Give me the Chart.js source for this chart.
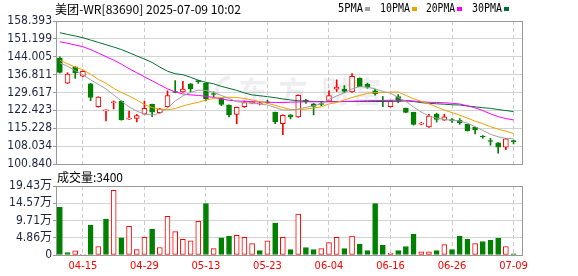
<!DOCTYPE html>
<html>
<head>
<meta charset="utf-8">
<script src="https://cdn.jsdelivr.net/npm/chart.js@4.4.1/dist/chart.umd.min.js"></script>
<style>
  html, body { margin: 0; padding: 0; background: #fff; }
  #wrap { position: relative; width: 578px; height: 276px; overflow: hidden; }
  #wrap canvas { position: absolute; left: 0; top: 0; }
</style>
</head>
<body>
<div id="wrap">
  <canvas id="kChart" width="578" height="276"></canvas>
  <canvas id="volChart" width="578" height="276"></canvas>
</div>
<script>
// trading days shown on the chart
const dates = [
  "04-10","04-11","04-14","04-15","04-16","04-17","04-22","04-23","04-24","04-25",
  "04-28","04-29","04-30","05-02","05-06","05-07","05-08","05-09","05-12","05-13",
  "05-14","05-15","05-16","05-19","05-20","05-21","05-22","05-23","05-26","05-27",
  "05-28","05-29","05-30","06-02","06-03","06-04","06-05","06-06","06-09","06-10",
  "06-11","06-12","06-13","06-16","06-17","06-18","06-19","06-20","06-23","06-24",
  "06-25","06-26","06-27","06-30","07-02","07-03","07-04","07-07","07-08","07-09"
];
// which dates get an x label + dashed grid line
const labelIdx = [3, 11, 19, 27, 35, 43, 51, 59];

const opens = [
  143.5,133.4,139.9,136.2,133.1,123.9,122.2,125.5,126.1,118.9,
  119.2,120.9,124.9,121.5,123.9,130.0,129.8,133.1,134.4,133.4,
  129.1,127.2,124.6,120.8,123.9,125.4,125.0,125.8,121.6,117.1,
  120.6,119.8,126.6,125.1,125.1,126.1,131.0,131.0,129.8,135.4,
  133.0,130.3,126.5,123.9,128.0,123.2,121.6,116.9,115.8,120.9,
  118.5,118.6,118.4,116.8,115.6,112.0,110.3,109.4,107.6,110.3
];
const highs = [
  144.0,137.6,140.0,138.3,133.3,127.9,122.6,126.2,126.3,122.1,
  120.8,126.1,125.0,123.2,130.3,134.4,134.1,133.2,134.6,133.5,
  129.9,127.3,124.7,123.8,126.2,126.1,125.8,126.5,121.7,120.6,
  120.7,128.7,126.9,125.2,125.8,130.3,134.7,132.4,137.2,135.5,
  133.4,130.9,128.0,126.4,128.8,123.3,121.7,117.6,120.8,121.3,
  120.9,119.1,119.1,116.9,115.7,112.3,111.2,109.5,111.2,110.5
];
const lows = [
  137.5,133.2,135.3,136.0,126.3,123.7,118.2,123.0,118.5,118.8,
  117.8,120.8,119.9,121.3,123.8,129.5,129.7,129.9,133.3,126.3,
  127.9,124.3,119.8,117.0,123.6,125.1,124.6,125.3,117.1,112.6,
  119.0,119.6,125.2,120.6,124.3,126.0,130.0,129.6,129.6,131.9,
  131.3,128.5,123.9,123.8,125.5,121.5,116.5,116.6,115.6,117.7,
  118.4,117.6,116.8,114.1,112.9,111.2,108.4,105.2,106.6,108.9
];
const closes = [
  137.7,137.0,137.5,138.1,127.6,127.8,122.4,125.7,118.6,119.3,
  120.3,123.2,121.7,123.0,128.4,129.6,131.0,131.1,133.9,127.1,
  128.8,124.8,120.6,123.6,125.6,125.7,125.3,125.5,117.9,120.4,
  119.8,128.5,125.8,124.0,124.8,128.4,131.8,130.1,136.1,132.0,
  131.8,129.1,126.1,126.2,126.1,121.6,116.8,117.2,120.1,118.8,
  119.8,118.3,117.5,114.2,114.7,111.7,109.9,107.6,111.0,109.8
];

const ma5 = [
  141.5,140.2,138.4,136.8,134.73,132.9,131.08,128.64,126.2,123.77,
  122.15,120.93,120.52,121.21,123.37,126.2,128.24,129.66,130.55,130.47,
  129.66,128.44,127.22,125.92,125.6,125.27,124.99,124.58,123.57,122.55,
  122.55,122.96,123.65,124.18,125.19,126.81,128.24,129.45,131.08,132.01,
  131.77,131.08,130.06,129.33,127.63,126.0,123.77,121.74,120.12,119.31,
  118.78,118.41,118.21,117.28,115.86,114.35,112.81,111.8,111.19,110.99
];
const ma10 = [
  142.56,141.22,139.81,138.79,136.96,134.93,133.31,131.28,129.66,128.24,
  126.61,124.79,123.57,122.84,122.64,123.16,124.18,124.99,125.68,126.61,
  127.22,127.63,127.71,127.63,127.22,126.61,126.0,125.27,124.46,123.57,
  122.76,122.64,122.96,123.37,123.86,124.99,125.6,126.61,127.63,128.44,
  129.25,129.58,129.66,129.74,129.86,128.44,127.1,126.08,125.07,123.77,
  122.55,121.54,120.52,119.31,118.09,117.08,115.86,114.84,114.03,113.1
];
const ma20 = [
  150.03,149.42,148.73,148.04,146.91,145.5,144.07,142.65,141.02,139.19,
  137.57,135.95,134.32,132.7,131.08,129.86,129.05,128.64,128.44,128.11,
  127.63,127.02,126.49,126.21,126.08,125.92,125.8,125.68,125.6,125.6,
  125.72,125.8,125.88,125.88,125.88,125.88,125.88,126.0,126.12,126.2,
  126.29,126.37,126.41,126.49,126.53,126.41,126.2,125.88,125.68,125.6,
  125.48,125.27,124.99,124.26,123.44,122.35,121.01,119.92,119.11,118.58
];
const ma30 = [
  153.68,152.99,152.35,151.66,150.72,149.79,148.85,147.92,146.91,145.65,
  144.35,143.09,141.71,139.84,138.18,137.17,136.76,135.75,134.53,133.72,
  133.11,132.09,131.28,130.47,129.45,128.64,128.32,127.95,127.51,127.02,
  126.61,126.29,126.12,126.04,126.0,126.0,126.0,126.0,126.0,126.0,
  126.0,126.0,126.0,126.05,126.1,126.19,126.0,125.52,125.27,125.07,
  124.91,124.67,124.58,124.18,123.85,123.48,123.24,122.76,122.35,121.95
];

// volume in 万 shares
const volumes = [
  13.4,0.67,1.15,0.2,8.4,2.4,10.1,18.2,4.8,8.1,
  1.5,5.0,7.3,2.1,10.9,6.6,4.4,4.0,9.5,14.45,
  1.8,4.8,5.3,5.55,5.0,3.2,1.25,4.0,9.0,5.0,
  1.5,11.5,2.1,1.5,1.8,3.5,5.0,1.8,5.3,3.0,
  1.25,14.45,2.7,0.57,1.25,2.4,5.8,0.86,0.86,1.25,
  2.9,1.5,5.3,4.4,3.2,3.8,4.1,4.7,2.4,0.34
];

const priceTicks = [100.840, 108.034, 115.228, 122.423, 129.617, 136.811, 144.005, 151.199, 158.393];
const volTicks = [0, 4.86, 9.71, 14.57, 19.43];

const RED = "#ff0000";
const GREEN = "#008000";
const LABEL_FONT = { family: '"DejaVu Sans Condensed", "DejaVu Sans", "Noto Sans CJK SC", sans-serif', size: 12 };

const candleUp = opens.map((o, i) => closes[i] >= o);
const volUp = closes.map((c, i) => i > 0 && c >= closes[i - 1]);

function xAxis(show) {
  return {
    type: "linear",
    min: -0.5,
    max: 60.1,
    offset: false,
    afterBuildTicks: s => { s.ticks = labelIdx.map(v => ({ value: v })); },
    afterFit: s => { s.height = show ? 21 : 0; },
    grid: { color: "#cccccc", drawTicks: false, offset: false },
    border: { display: false, dash: [4, 3] },
    ticks: {
      display: show,
      autoSkip: false,
      maxRotation: 0,
      padding: 5,
      color: RED,
      font: { family: LABEL_FONT.family, size: 11 },
      callback: v => dates[v]
    }
  };
}

function yAxis(min, max, ticks, fmt) {
  return {
    min: min,
    max: max,
    afterBuildTicks: s => { s.ticks = ticks.map(v => ({ value: v })); },
    afterFit: s => { s.width = 56; },
    grid: { color: "#d4d4d4", tickColor: "#999", tickLength: 3 },
    border: { display: false },
    ticks: { autoSkip: false, padding: 1, color: "#1d2440", font: LABEL_FONT, callback: fmt }
  };
}

// gray box round the plot area
const framePlugin = {
  id: "frame",
  afterDraw(chart) {
    const { ctx, chartArea: a } = chart;
    ctx.save();
    ctx.strokeStyle = "#999";
    ctx.lineWidth = 1;
    ctx.strokeRect(a.left + 0.5, a.top + 0.5, a.right - a.left, a.bottom - a.top);
    ctx.restore();
  }
};

function fitText(ctx, text, x, y, w, font, color) {
  ctx.save();
  ctx.font = font;
  ctx.fillStyle = color;
  ctx.textBaseline = "middle";
  const m = ctx.measureText(text).width;
  ctx.translate(x, y);
  ctx.scale(w / m, 1);
  ctx.fillText(text, 0, 0);
  ctx.restore();
}

const headerPlugin = {
  id: "header",
  beforeDatasetsDraw(chart) {
    // faint watermark
    const ctx = chart.ctx;
    ctx.save();
    ctx.fillStyle = "rgba(120,120,150,0.13)";
    ctx.font = 'bold 29px "Noto Sans CJK SC"';
    ctx.textAlign = "center";
    ctx.textBaseline = "middle";
    [["东", 253], ["方", 293], ["财", 336], ["富", 367]].forEach(([t, x]) => ctx.fillText(t, x, 92));
    ctx.strokeStyle = "rgba(120,120,150,0.13)";
    ctx.lineWidth = 4;
    ctx.beginPath();
    ctx.arc(232, 92, 15, Math.PI * 0.6, Math.PI * 1.45);
    ctx.stroke();
    ctx.restore();
  },
  afterDraw(chart) {
    const ctx = chart.ctx;
    fitText(ctx, "美团-WR[83690] 2025-07-09 10:02", 55, 9.5, 186, '12px "Noto Sans CJK SC"', "#000");
    const items = [["5PMA", "#a0a0a0", 338, 25], ["10PMA", "#f0a000", 380, 30],
                   ["20PMA", "#ff00ff", 426, 29], ["30PMA", "#007030", 472, 30]];
    items.forEach(([t, c, x, w]) => {
      fitText(ctx, t, x, 9, w, '12px "DejaVu Sans Mono"', "#000");
      ctx.fillStyle = c;
      ctx.fillRect(x + w + 2, 7, 5, 4);
    });
  }
};

const volTitlePlugin = {
  id: "volTitle",
  afterDraw(chart) {
    const ctx = chart.ctx;
    ctx.save();
    ctx.font = '12px "Noto Sans CJK SC"';
    ctx.fillStyle = "#000";
    ctx.textBaseline = "middle";
    ctx.fillText("成交量:3400", 57, 177);
    ctx.restore();
  }
};

function maSet(data, color) {
  return {
    type: "line",
    data: data.map((v, i) => ({ x: i, y: v })),
    borderColor: color,
    borderWidth: 1,
    pointRadius: 0,
    tension: 0,
    order: 0
  };
}

new Chart(document.getElementById("kChart"), {
  type: "bar",
  data: {
    datasets: [
      maSet(ma5, "#a0a0a0"),
      maSet(ma10, "#f0a000"),
      maSet(ma20, "#ff00ff"),
      maSet(ma30, "#007030"),
      {
        // bodies
        data: opens.map((o, i) => ({ x: i, y: [o, closes[i]] })),
        backgroundColor: candleUp.map(u => (u ? "#fff" : GREEN)),
        borderColor: candleUp.map(u => (u ? RED : GREEN)),
        borderWidth: 1,
        borderSkipped: false,
        barThickness: 5,
        minBarLength: 1,
        grouped: false,
        order: 1
      },
      {
        // wicks
        data: lows.map((l, i) => ({ x: i, y: [l, highs[i]] })),
        backgroundColor: candleUp.map(u => (u ? RED : GREEN)),
        borderWidth: 0,
        barThickness: 1,
        grouped: false,
        order: 2
      }
    ]
  },
  options: {
    responsive: false,
    animation: false,
    events: [],
    layout: { padding: { top: 21, bottom: 112, left: 0, right: 56 } },
    plugins: { legend: { display: false }, tooltip: { enabled: false } },
    scales: {
      x: xAxis(false),
      y: yAxis(100.840, 158.393, priceTicks, v => v.toFixed(3))
    }
  },
  plugins: [headerPlugin, framePlugin]
});

new Chart(document.getElementById("volChart"), {
  type: "bar",
  data: {
    datasets: [{
      data: volumes.map((v, i) => ({ x: i, y: v })),
      backgroundColor: volUp.map(u => (u ? "#fff" : GREEN)),
      borderColor: volUp.map(u => (u ? RED : GREEN)),
      borderWidth: 1,
      borderSkipped: false,
      barThickness: 5,
      grouped: false
    }]
  },
  options: {
    responsive: false,
    animation: false,
    events: [],
    layout: { padding: { top: 186, bottom: 0, left: 0, right: 56 } },
    plugins: { legend: { display: false }, tooltip: { enabled: false } },
    scales: {
      x: xAxis(true),
      y: yAxis(0, 19.43, volTicks, v => (v === 0 ? "0" : v.toFixed(2) + "万"))
    }
  },
  plugins: [volTitlePlugin, framePlugin]
});
</script>
</body>
</html>
